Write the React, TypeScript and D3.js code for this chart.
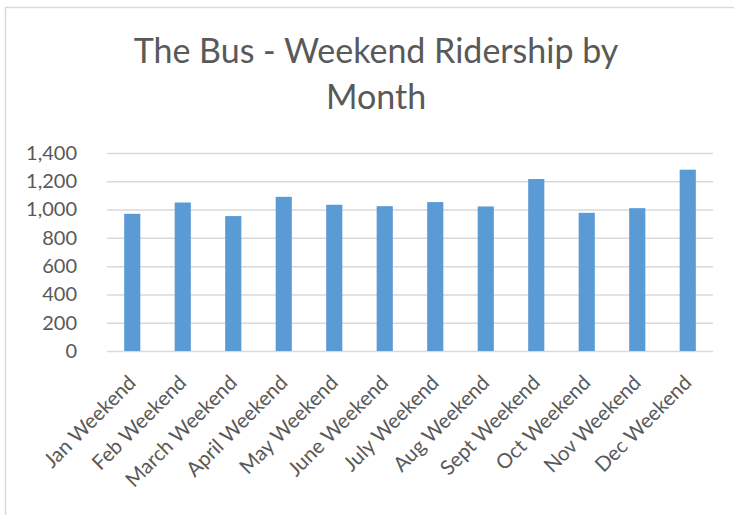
import React, { useEffect, useRef } from 'react';
import * as d3 from 'd3';

const months = [
  'Jan Weekend', 'Feb Weekend', 'March Weekend', 'April Weekend', 'May Weekend', 'June Weekend',
  'July Weekend', 'Aug Weekend', 'Sept Weekend', 'Oct Weekend', 'Nov Weekend', 'Dec Weekend',
];
const riders = [970, 1050, 954, 1090, 1034, 1024, 1053, 1022, 1216, 977, 1010, 1282];
const yTicks = [0, 200, 400, 600, 800, 1000, 1200, 1400];
const titleLines = ['The Bus - Weekend Ridership by', 'Month'];

const FONT = 'Lato, "Open Sans", sans-serif';
const TEXT = '#595959';

export default function App() {
  const ref = useRef<SVGSVGElement>(null);

  useEffect(() => {
    document.body.style.margin = '0';
    if (!ref.current) return;
    const svg = d3.select(ref.current);
    svg.selectAll('*').remove();

    const width = 734;
    const height = 515;
    const margin = { top: 153, right: 21, bottom: 164, left: 107 };
    const innerWidth = width - margin.left - margin.right;
    const innerHeight = height - margin.top - margin.bottom;

    svg.append('rect').attr('width', width).attr('height', height).attr('fill', '#fff');

    // chart frame (cropped on right/bottom)
    svg.append('rect')
      .attr('x', 5.5).attr('y', 7.5)
      .attr('width', width + 20).attr('height', height + 20)
      .attr('fill', 'none').attr('stroke', '#d9d9d9').attr('stroke-width', 1.5);

    // title
    svg.append('text')
      .attr('x', 376).attr('y', 63)
      .attr('text-anchor', 'middle')
      .attr('font-family', FONT).attr('font-size', 34).attr('fill', TEXT)
      .selectAll('tspan')
      .data(titleLines)
      .enter()
      .append('tspan')
      .attr('x', 376)
      .attr('dy', (_, i) => (i === 0 ? 0 : 46))
      .text((d) => d);

    const g = svg.append('g').attr('transform', `translate(${margin.left},${margin.top})`);

    const x = d3.scaleBand().domain(months).range([0, innerWidth]).paddingInner(0.68).paddingOuter(0.34);
    const y = d3.scaleLinear().domain([0, 1400]).range([innerHeight, 0]);

    // gridlines
    g.append('g')
      .call(d3.axisLeft(y).tickValues(yTicks).tickSize(-innerWidth).tickFormat(() => ''))
      .call((a) => a.select('.domain').remove())
      .call((a) => a.selectAll('.tick line').attr('stroke', '#d9d9d9').attr('stroke-width', 1.5));

    // y labels
    g.append('g')
      .call(d3.axisLeft(y).tickValues(yTicks).tickSize(0).tickPadding(30).tickFormat(d3.format(',')))
      .call((a) => a.select('.domain').remove())
      .call((a) =>
        a.selectAll('.tick text').attr('fill', TEXT).attr('font-size', 20).attr('font-family', FONT)
      );

    // bars
    g.selectAll('.bar')
      .data(riders)
      .enter()
      .append('rect')
      .attr('class', 'bar')
      .attr('x', (_, i) => x(months[i])!)
      .attr('width', x.bandwidth())
      .attr('y', (d) => y(d))
      .attr('height', (d) => innerHeight - y(d))
      .attr('fill', '#5b9bd5');

    // x labels, rotated 45deg
    g.append('g')
      .attr('transform', `translate(0,${innerHeight})`)
      .call(d3.axisBottom(x).tickSize(0).tickPadding(0))
      .call((a) => a.select('.domain').remove())
      .call((a) =>
        a.selectAll('.tick text')
          .attr('fill', TEXT).attr('font-size', 20.5).attr('font-family', FONT)
          .attr('text-anchor', 'end')
          .attr('dy', 0)
          .attr('transform', 'translate(5,33) rotate(-45)')
      );
  }, []);

  return <svg ref={ref} width={734} height={515} style={{ display: 'block' }} />;
}
